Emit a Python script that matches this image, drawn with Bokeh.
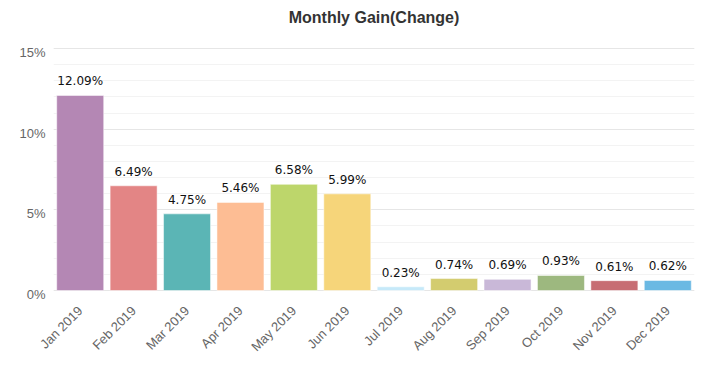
import math
from bokeh.plotting import figure
from bokeh.models import (ColumnDataSource, FactorRange, Range1d, FixedTicker, Label,
                          LinearAxis)
from bokeh.embed import file_html
from bokeh.resources import INLINE
from bokeh.core.properties import value

months = ["Jan 2019", "Feb 2019", "Mar 2019", "Apr 2019", "May 2019", "Jun 2019",
          "Jul 2019", "Aug 2019", "Sep 2019", "Oct 2019", "Nov 2019", "Dec 2019"]
gains = [12.09, 6.49, 4.75, 5.46, 6.58, 5.99, 0.23, 0.74, 0.69, 0.93, 0.61, 0.62]
colors = ["#b487b4", "#e38585", "#5bb5b5", "#fdbd94", "#bdd66b", "#f6d57a",
          "#c6e9f9", "#d3cc6f", "#c9b8d8", "#9db87f", "#c76d73", "#6bb9e3"]
labels = ["%.2f%%" % g for g in gains]
y_ticks = [0, 5, 10, 15]
y_tick_labels = ["0%", "5%", "10%", "15%"]
title = "Monthly Gain(Change)"

src = ColumnDataSource(dict(m=months, g=gains, c=colors, lab=labels))

W, H = 710, 362
L, R, B = 53, 16, 68
Y_MAX = 15
PLOT_PX = 242      # pixel height of 0%..15%
TOP_PX = 48        # space above 15% line (holds the title)
BELOW_PX = 4       # frame extends below 0% so tick labels sit 4px under grid lines
k = PLOT_PX / Y_MAX
y_start = -BELOW_PX / k
y_end = Y_MAX + TOP_PX / k

p = figure(x_range=FactorRange(*months, range_padding=0), y_range=Range1d(y_start, y_end),
           width=W, height=H, output_backend="svg", toolbar_location=None,
           y_axis_location=None,
           min_border_left=L, min_border_right=R, min_border_top=0, min_border_bottom=B)
p.outline_line_color = None
p.background_fill_color = "white"

p.vbar(x="m", top="g", bottom=0, width=0.88, source=src, fill_color="c",
       line_color="white", line_alpha=0.5, line_width=1)
p.text(x="m", y="g", text="lab", source=src, text_align="center",
       text_baseline="alphabetic", y_offset=-14, text_font=value("DejaVu Sans"),
       text_font_size="12px", text_color="#111111")

p.xgrid.grid_line_color = None
p.ygrid.ticker = FixedTicker(ticks=y_ticks, minor_ticks=list(range(0, Y_MAX + 1)))
p.ygrid.grid_line_color = "#e6e6e6"
p.ygrid.minor_grid_line_color = "#f3f3f3"

p.extra_y_ranges = {"lab": Range1d(0, y_end - y_start)}
yax = LinearAxis(y_range_name="lab", ticker=FixedTicker(ticks=y_ticks),
                 major_label_overrides={t: s for t, s in zip(y_ticks, y_tick_labels)})
yax.axis_line_color = None
yax.major_tick_line_color = None
yax.minor_tick_line_color = None
yax.major_label_text_color = "#666666"
yax.major_label_text_font = "Liberation Sans"
yax.major_label_text_font_size = "13px"
yax.major_label_standoff = 2
p.add_layout(yax, "left")

# chart title, centred over the plot area, 31px above the 15% line
p.add_layout(Label(x=len(months) / 2, y=Y_MAX + 31 / k, text=title,
                   text_align="center", text_baseline="middle",
                   text_font="Liberation Sans", text_font_size="16px",
                   text_font_style="bold", text_color="#333333"))

ax = p.xaxis
ax.axis_line_color = None
ax.major_tick_line_color = None
ax.minor_tick_line_color = None
ax.major_label_text_color = "#666666"
ax.major_label_text_font = "Liberation Sans"
ax.major_label_text_font_size = "13px"
ax.major_label_orientation = math.pi / 4
ax.major_label_standoff = 8

open("out.html", "w").write(file_html(p, INLINE))
